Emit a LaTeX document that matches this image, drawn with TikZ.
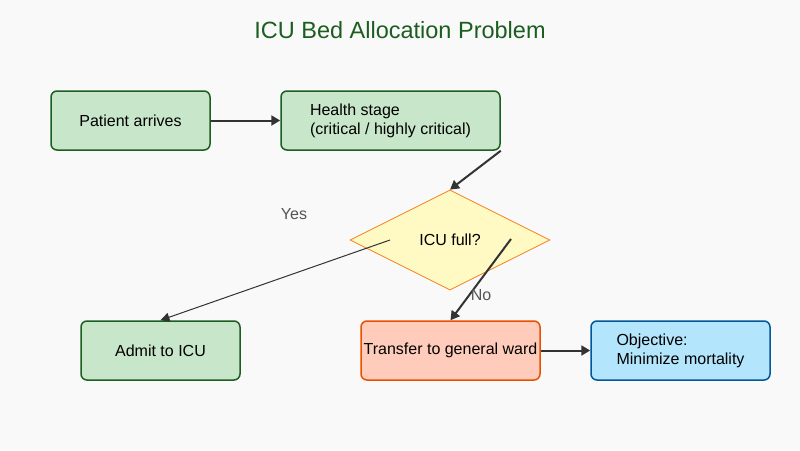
\documentclass[tikz,border=0pt]{standalone}
\usepackage{fontspec}
\setmainfont{Liberation Sans}
\usetikzlibrary{shapes.geometric,arrows.meta}
\definecolor{bgc}{HTML}{F9F9F9}
\definecolor{gfill}{HTML}{C8E6C9}
\definecolor{gline}{HTML}{1B5E20}
\definecolor{yfill}{HTML}{FFF9C4}
\definecolor{yline}{HTML}{F57F17}
\definecolor{ofill}{HTML}{FFCCBC}
\definecolor{oline}{HTML}{E65100}
\definecolor{bfill}{HTML}{B3E5FC}
\definecolor{bline}{HTML}{01579B}
\definecolor{arr}{HTML}{333333}
\definecolor{lbl}{HTML}{555555}
\tikzset{
  box/.style={rounded corners=6pt, line width=1.5pt, minimum width=159pt, minimum height=59pt, inner sep=0pt, align=left, text=black, font=\fontsize{16}{19}\selectfont},
  greenbox/.style={box, fill=gfill, draw=gline},
  orangebox/.style={box, fill=ofill, draw=oline},
  bluebox/.style={box, fill=bfill, draw=bline},
  decision/.style={diamond, aspect=2, minimum width=200pt, minimum height=100pt, inner sep=0pt, fill=yfill, draw=yline, line width=0.8pt, font=\fontsize{16}{19}\selectfont},
  conn/.style={draw=arr, line width=2pt, -{Triangle[length=9pt,width=10pt]}},
  thinconn/.style={draw=arr, line width=1pt, -{Triangle[length=9pt,width=9pt]}},
  lab/.style={text=lbl, font=\fontsize{16}{19}\selectfont}
}
\begin{document}
\begin{tikzpicture}[x=1pt,y=-1pt]
\fill[bgc] (0,0) rectangle (800,450);
\useasboundingbox (0,0) rectangle (800,450);
\node[text=gline, font=\fontsize{23.5}{28}\selectfont] (title) at (400,30) {ICU Bed Allocation Problem};
\node[greenbox] (arrive) at (130.5,120.5) {Patient arrives};
\node[greenbox, minimum width=219pt] (stage) at (390.5,120.5) {Health stage\\(critical / highly critical)};
\node[decision] (full) at (450,240) {ICU full?};
\node[greenbox] (admit) at (160.5,350.5) {Admit to ICU};
\node[orangebox, minimum width=179pt] (transfer) at (450.5,350.5) {Transfer to general ward};
\node[bluebox, minimum width=179pt] (objective) at (680.5,350.5) {Objective:\\Minimize mortality};
\coordinate (yesStart) at (390,240);
\coordinate (noStart) at (511,239);
\draw[conn] (arrive.east) -- (stage.west);
\draw[conn] (stage.south east) -- (full.north);
\draw[thinconn] (yesStart) -- (admit.north);
\draw[conn] (noStart) -- (transfer.north);
\draw[conn] (transfer.east) -- (objective.west);
\node[lab] (yes) at (294,214) {Yes};
\node[lab] (no) at (481,295) {No};
\end{tikzpicture}
\end{document}
